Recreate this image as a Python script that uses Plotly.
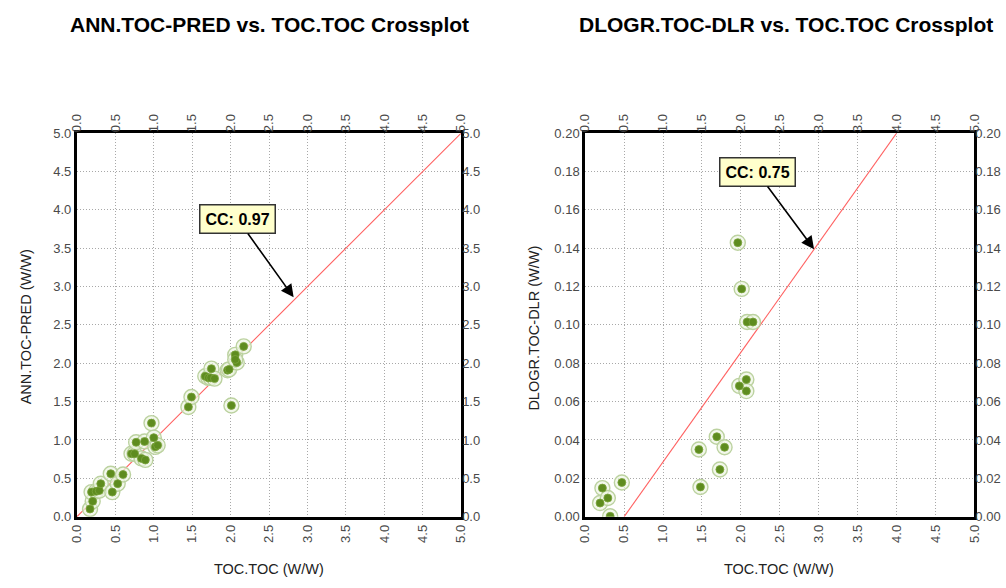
import plotly.graph_objects as go

# ANN prediction vs. measured TOC
ann_toc = [0.17, 0.205, 0.19, 0.25, 0.29, 0.31, 0.46, 0.44, 0.53, 0.60, 0.71, 0.75,
           0.77, 0.84, 0.89, 0.88, 0.97, 1.00, 1.02, 1.05, 1.45, 1.49, 1.67, 1.71,
           1.74, 1.75, 1.79, 1.96, 1.98, 2.01, 2.06, 2.08, 2.06, 2.17]
ann_pred = [0.10, 0.20, 0.32, 0.33, 0.34, 0.43, 0.32, 0.56, 0.43, 0.55, 0.82, 0.82,
            0.97, 0.76, 0.74, 0.98, 1.22, 1.03, 0.91, 0.93, 1.43, 1.56, 1.83, 1.81,
            1.81, 1.93, 1.80, 1.91, 1.92, 1.45, 2.11, 2.01, 2.05, 2.22]

# Delta-log-R estimate vs. measured TOC
dlr_toc = [0.22, 0.19, 0.29, 0.32, 0.47, 1.46, 1.48, 1.69, 1.73, 1.79, 1.96, 2.01,
           2.08, 2.155, 1.98, 2.07, 2.07]
dlr_val = [0.0149, 0.0071, 0.0097, 0.0002, 0.0178, 0.035, 0.0155, 0.0417, 0.0246,
           0.0362, 0.1429, 0.1188, 0.1015, 0.1015, 0.0682, 0.0715, 0.0655]

# Reference lines
ann_line_x = [0.0, 5.0]
ann_line_y = [0.0, 5.0]
dlr_line_x = [0.5, 4.0]
dlr_line_y = [0.0, 0.2]

cc_ann = 0.97
cc_dlr = 0.75
ann_arrow = (2.82, 2.86)
dlr_arrow = (2.94, 0.1395)

x_ticks = [i * 0.5 for i in range(11)]
ann_y_ticks = [i * 0.5 for i in range(11)]
dlr_y_ticks = [i * 0.02 for i in range(11)]

FONT = "Liberation Sans, Arial, sans-serif"
DOT = "#5e8c1f"
RING = "#bcd2a0"
LINE_RED = "#ff6060"

fig = go.Figure()


def add_points(xs, ys, xa, ya):
    fig.add_trace(go.Scatter(x=xs, y=ys, xaxis=xa, yaxis=ya, mode="markers",
                             marker=dict(size=15, color="rgba(238,245,228,0.7)",
                                         line=dict(width=1.4, color=RING)),
                             showlegend=False, hoverinfo="skip"))
    fig.add_trace(go.Scatter(x=xs, y=ys, xaxis=xa, yaxis=ya, mode="markers",
                             marker=dict(size=8, color=DOT,
                                         line=dict(width=0.8, color="#7ba33e")),
                             showlegend=False))


fig.add_trace(go.Scatter(x=ann_line_x, y=ann_line_y, xaxis="x", yaxis="y", mode="lines",
                         line=dict(color=LINE_RED, width=1.1), showlegend=False))
add_points(ann_toc, ann_pred, "x", "y")
fig.add_trace(go.Scatter(x=dlr_line_x, y=dlr_line_y, xaxis="x2", yaxis="y2", mode="lines",
                         line=dict(color=LINE_RED, width=1.1), showlegend=False))
add_points(dlr_toc, dlr_val, "x2", "y2")

# placeholder traces so the mirrored label axes are drawn
for xa, ya in [("x3", "y"), ("x", "y3"), ("x4", "y2"), ("x2", "y4")]:
    fig.add_trace(go.Scatter(x=[None], y=[None], xaxis=xa, yaxis=ya, mode="markers",
                             showlegend=False, hoverinfo="skip"))

W, H = 1006, 588
left_dom = [70 / W, 460 / W]
right_dom = [586 / W, 981 / W]
y_dom = [1 - 523 / H, 1 - 129.5 / H]

tickfont = dict(family=FONT, size=13, color="#4a4a4a")

main_axis = dict(showline=True, linewidth=3, linecolor="black", mirror=True,
                 showgrid=True, gridcolor="#a8a8a8", griddash="1px,2px", gridwidth=1,
                 zeroline=False, ticks="", tickfont=tickfont)
side_axis = dict(showline=False, showgrid=False, zeroline=False, ticks="",
                 tickfont=tickfont)

fig.update_layout(
    width=W, height=H,
    margin=dict(l=0, r=0, t=0, b=0),
    paper_bgcolor="white", plot_bgcolor="white",
    showlegend=False,
    xaxis=dict(main_axis, domain=left_dom, anchor="y", range=[0, 5],
               tickvals=x_ticks, tickformat=".1f", tickangle=-90),
    yaxis=dict(main_axis, domain=y_dom, anchor="x", range=[0, 5],
               tickvals=ann_y_ticks, tickformat=".1f"),
    xaxis3=dict(side_axis, overlaying="x", side="top", anchor="y", range=[0, 5],
                tickvals=x_ticks, tickformat=".1f", tickangle=-90),
    yaxis3=dict(side_axis, overlaying="y", side="right", anchor="x", range=[0, 5],
                tickvals=ann_y_ticks, tickformat=".1f"),
    xaxis2=dict(main_axis, domain=right_dom, anchor="y2", range=[0, 5],
                tickvals=x_ticks, tickformat=".1f", tickangle=-90),
    yaxis2=dict(main_axis, domain=y_dom, anchor="x2", range=[0, 0.2],
                tickvals=dlr_y_ticks, tickformat=".2f"),
    xaxis4=dict(side_axis, overlaying="x2", side="top", anchor="y2", range=[0, 5],
                tickvals=x_ticks, tickformat=".1f", tickangle=-90),
    yaxis4=dict(side_axis, overlaying="y2", side="right", anchor="x2", range=[0, 0.2],
                tickvals=dlr_y_ticks, tickformat=".2f"),
)

title_font = dict(family=FONT, size=21, color="black")
axis_title_font = dict(family=FONT, size=14.5, color="#222222")


def paper_text(text, px, py, font, angle=0):
    return dict(text=text, x=px / W, y=1 - py / H, xref="paper", yref="paper",
                xanchor="center", yanchor="middle", showarrow=False,
                textangle=angle, font=font)


annotations = [
    paper_text("<b>ANN.TOC-PRED vs. TOC.TOC Crossplot</b>", 265, 18, title_font),
    paper_text("<b>DLOGR.TOC-DLR vs. TOC.TOC Crossplot</b>", 790, 18, title_font),
    paper_text("TOC.TOC (W/W)", 265, 577, axis_title_font),
    paper_text("TOC.TOC (W/W)", 783, 577, axis_title_font),
    paper_text("ANN.TOC-PRED (W/W)", 18, 328, axis_title_font, -90),
    paper_text("DLOGR.TOC-DLR (W/W)", 534, 330, axis_title_font, -90),
]

box = dict(showarrow=True, arrowhead=2, arrowsize=1.6, arrowwidth=1.6, arrowcolor="black",
           bgcolor="#ffffcc", bordercolor="#333333", borderwidth=1.5, borderpad=5,
           font=dict(family=FONT, size=16, color="black"))
annotations.append(dict(box, text=f"<b>CC: {cc_ann:.2f}</b>", x=ann_arrow[0], y=ann_arrow[1],
                        xref="x", yref="y", ax=-56, ay=-78))
annotations.append(dict(box, text=f"<b>CC: {cc_dlr:.2f}</b>", x=dlr_arrow[0], y=dlr_arrow[1],
                        xref="x2", yref="y2", ax=-57, ay=-77))

fig.update_layout(annotations=annotations)

fig.write_html("out.html")
